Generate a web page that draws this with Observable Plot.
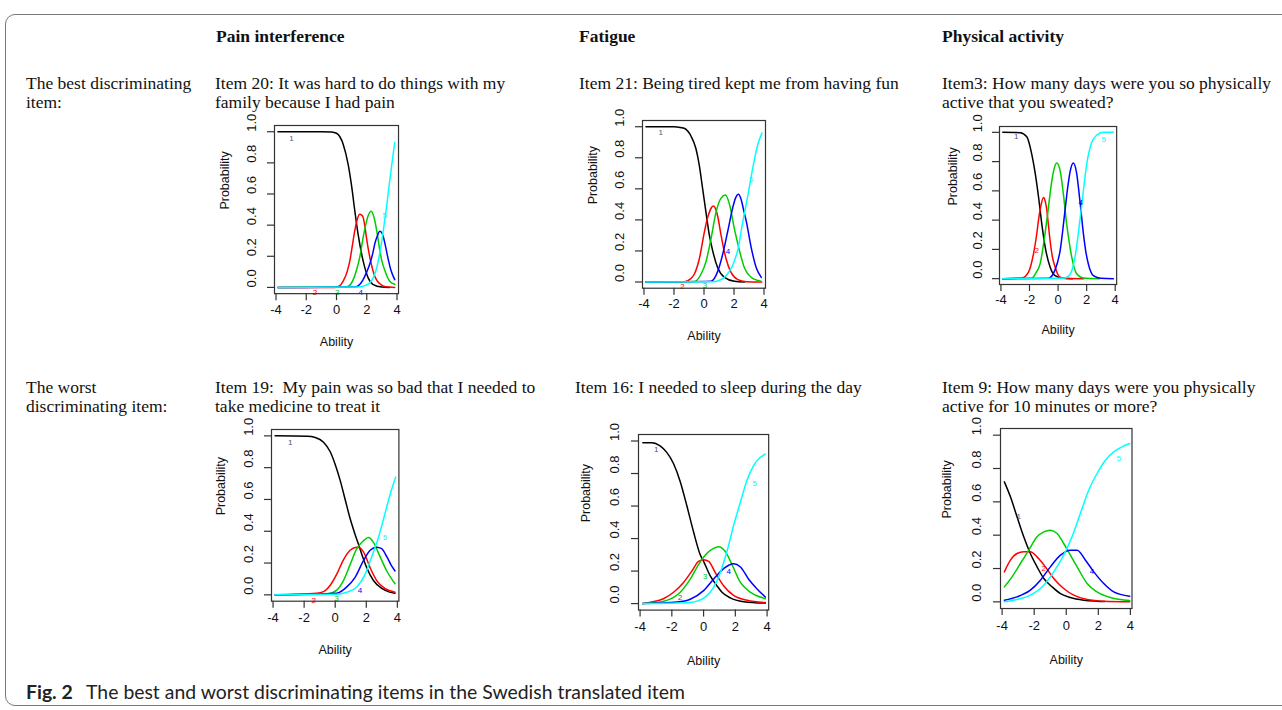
<!DOCTYPE html>
<html>
<head>
<meta charset="utf-8">
<script src="https://cdn.jsdelivr.net/npm/d3@7"></script>
<script src="https://cdn.jsdelivr.net/npm/@observablehq/plot@0.6"></script>
<style>
  html, body { margin: 0; padding: 0; background: #fff; }
  #page { position: relative; width: 1282px; height: 710px; overflow: hidden; background: #fff; }
  .border { position: absolute; left: 5px; top: 14px; width: 1300px; height: 692px; border: 1px solid #7a7a7a; border-radius: 10px; box-sizing: border-box; }
  .t { position: absolute; font-family: "Liberation Serif", "Times New Roman", serif; font-size: 17.5px; line-height: 19px; color: #111; white-space: nowrap; }
  .h { font-weight: bold; }
  .cap { position: absolute; left: 26px; top: 680px; font-family: Lato, "Open Sans", sans-serif; font-size: 19.4px; line-height: 24px; color: #222; white-space: nowrap; }
  .cap b { font-weight: bold; margin-right: 9px; }
  svg.panel { position: absolute; overflow: visible; }
</style>
</head>
<body>
<div id="page">
  <div class="border"></div>
  <div class="t h" style="left:216px; top:27px;">Pain interference</div>
  <div class="t h" style="left:579px; top:27px;">Fatigue</div>
  <div class="t h" style="left:942px; top:27px;">Physical activity</div>

  <div class="t" style="left:26px; top:74px;">The best discriminating<br>item:</div>
  <div class="t" style="left:215px; top:74px;">Item 20: It was hard to do things with my<br>family because I had pain</div>
  <div class="t" style="left:579px; top:74px;">Item 21: Being tired kept me from having fun</div>
  <div class="t" style="left:942px; top:74px;">Item3: How many days were you so physically<br>active that you sweated?</div>

  <div class="t" style="left:26px; top:378px;">The worst<br>discriminating item:</div>
  <div class="t" style="left:215px; top:378px;">Item 19:&nbsp; My pain was so bad that I needed to<br>take medicine to treat it</div>
  <div class="t" style="left:575px; top:378px;">Item 16: I needed to sleep during the day</div>
  <div class="t" style="left:942px; top:378px;">Item 9: How many days were you physically<br>active for 10 minutes or more?</div>

  <div class="cap"><b>Fig. 2</b> The best and worst discriminating items in the Swedish translated item</div>
</div>
<script>
// ---- Axis ticks and labels ----
const xTicks = [-4, -2, 0, 2, 4];
const yTicks = [0, 0.2, 0.4, 0.6, 0.8, 1.0];
const xLabel = "Ability";
const yLabel = "Probability";
const categoryColors = ["#000000", "#ff0000", "#00cd00", "#0000ff", "#00ffff"];
const labelColors = ["#4a5680", "#ff0000", "#00cd00", "#0000ff", "#00ffff"];

// ---- Panel 1: Pain interference, Item 20 (best) ----
const p1_cat1 = [[-3.87,1],[-1,1],[-0.33,0.998],[0,0.99],[0.44,0.92],[0.77,0.79],[1.0,0.65],[1.2,0.5],[1.43,0.34],[1.76,0.17],[2.1,0.06],[2.4,0.02],[3.0,0.002],[3.5,0]];
const p1_cat2 = [[-3.87,0],[-0.1,0],[0.2,0.01],[0.44,0.04],[0.7,0.1],[0.88,0.17],[1.05,0.27],[1.2,0.36],[1.38,0.44],[1.54,0.47],[1.66,0.465],[1.76,0.45],[1.88,0.39],[1.98,0.32],[2.15,0.22],[2.3,0.15],[2.5,0.08],[2.64,0.05],[2.85,0.025],[3.08,0.01],[3.5,0.002],[3.85,0]];
const p1_cat3 = [[-3.87,0],[0.66,0.003],[1.0,0.03],[1.32,0.11],[1.55,0.2],[1.76,0.32],[1.95,0.41],[2.09,0.46],[2.3,0.49],[2.42,0.47],[2.53,0.43],[2.7,0.34],[2.86,0.24],[3.0,0.17],[3.19,0.11],[3.52,0.04],[3.85,0.02]];
const p1_cat4 = [[-3.87,0],[1.3,0.005],[1.55,0.02],[1.76,0.05],[2.0,0.1],[2.2,0.15],[2.4,0.22],[2.53,0.28],[2.7,0.33],[2.86,0.36],[3.0,0.35],[3.08,0.33],[3.25,0.26],[3.4,0.19],[3.6,0.11],[3.85,0.05]];
const p1_cat5 = [[-3.87,0],[1.5,0.003],[1.9,0.012],[2.2,0.03],[2.42,0.06],[2.64,0.12],[2.86,0.22],[3.03,0.32],[3.17,0.42],[3.3,0.51],[3.46,0.64],[3.63,0.77],[3.75,0.86],[3.85,0.93]];
const p1_labels = [["1",-2.97,0.96,0],["2",-1.43,-0.03,1],["3",0.04,-0.03,2],["4",1.6,-0.03,3],["5",3.19,0.46,4]];

// ---- Panel 2: Fatigue, Item 21 (best) ----
const p2_cat1 = [[-3.87,1],[-2,1],[-1.77,0.998],[-1.32,0.99],[-0.87,0.94],[-0.54,0.86],[-0.31,0.75],[-0.09,0.6],[0.13,0.45],[0.36,0.3],[0.58,0.2],[0.92,0.09],[1.36,0.03],[2.03,0.005],[2.7,0]];
const p2_cat2 = [[-3.87,0],[-1.32,0.002],[-0.9,0.02],[-0.65,0.05],[-0.31,0.15],[0.02,0.32],[0.2,0.4],[0.36,0.45],[0.5,0.48],[0.63,0.49],[0.78,0.47],[0.92,0.42],[1.14,0.3],[1.3,0.22],[1.47,0.15],[1.81,0.06],[2.26,0.015],[2.8,0.002],[3.85,0]];
const p2_cat3 = [[-3.87,0],[-0.65,0.003],[-0.2,0.05],[0.13,0.13],[0.47,0.28],[0.8,0.45],[1.14,0.54],[1.43,0.56],[1.7,0.5],[2.03,0.34],[2.37,0.2],[2.7,0.09],[3.15,0.03],[3.8,0.005]];
const p2_cat4 = [[-3.87,0],[0.47,0.005],[0.92,0.07],[1.25,0.18],[1.59,0.33],[1.92,0.48],[2.1,0.54],[2.3,0.565],[2.48,0.53],[2.65,0.46],[2.82,0.39],[3.15,0.22],[3.49,0.09],[3.82,0.03]];
const p2_cat5 = [[-3.87,0],[0.6,0.002],[1.0,0.01],[1.36,0.03],[1.7,0.07],[1.92,0.11],[2.26,0.21],[2.59,0.39],[2.93,0.56],[3.26,0.74],[3.6,0.89],[3.87,0.96]];
const p2_labels = [["1",-2.88,0.96,0],["2",-1.43,-0.03,1],["3",0.07,-0.02,2],["4",1.59,0.2,3],["5",3.15,0.66,4]];

// ---- Panel 3: Physical activity, Item 3 (best) ----
const p3_cat1 = [[-3.87,1],[-2.65,0.998],[-2.19,0.97],[-1.84,0.85],[-1.6,0.72],[-1.37,0.56],[-1.14,0.375],[-0.91,0.22],[-0.56,0.08],[-0.21,0.02],[0.37,0.002],[1.0,0]];
const p3_cat2 = [[-3.87,0],[-2.53,0.005],[-2.07,0.045],[-1.72,0.17],[-1.5,0.3],[-1.37,0.4],[-1.2,0.5],[-1.02,0.555],[-0.9,0.53],[-0.79,0.47],[-0.68,0.37],[-0.56,0.26],[-0.4,0.15],[-0.21,0.08],[0.14,0.01],[0.6,0.001],[1.8,0]];
const p3_cat3 = [[-3.87,0],[-1.84,0.003],[-1.55,0.04],[-1.26,0.1],[-0.91,0.31],[-0.72,0.45],[-0.56,0.58],[-0.42,0.68],[-0.28,0.75],[-0.09,0.79],[0.14,0.74],[0.37,0.58],[0.6,0.375],[0.78,0.25],[0.95,0.15],[1.3,0.034],[1.77,0.005],[2.9,0]];
const p3_cat4 = [[-3.87,0],[-0.67,0.003],[-0.21,0.06],[0.14,0.19],[0.49,0.47],[0.67,0.62],[0.84,0.73],[1.07,0.79],[1.3,0.72],[1.53,0.53],[1.77,0.31],[1.95,0.18],[2.12,0.1],[2.47,0.02],[3.0,0.002],[3.87,0]];
const p3_cat5 = [[-3.87,0],[0.37,0.002],[0.84,0.03],[1.19,0.15],[1.53,0.4],[1.77,0.6],[2.0,0.78],[2.35,0.93],[2.7,0.98],[3.16,1.0],[3.87,1.0]];
const p3_labels = [["1",-2.93,0.97,0],["2",-1.49,0.19,1],["4",1.58,0.52,3],["5",3.2,0.95,4]];

// ---- Panel 4: Pain interference, Item 19 (worst) ----
const p4_cat1 = [[-3.87,1],[-1.8,0.998],[-1.28,0.99],[-0.75,0.96],[-0.32,0.9],[0,0.82],[0.32,0.72],[0.64,0.6],[0.96,0.48],[1.28,0.38],[1.56,0.3],[1.8,0.23],[2.03,0.17],[2.46,0.09],[3.0,0.04],[3.5,0.017],[3.85,0.01]];
const p4_cat2 = [[-3.87,0],[-1.18,0.01],[-0.75,0.02],[-0.32,0.06],[0.1,0.13],[0.53,0.22],[0.96,0.28],[1.39,0.3],[1.6,0.295],[1.82,0.27],[2.25,0.17],[2.67,0.09],[3.2,0.04],[3.85,0.017]];
const p4_cat3 = [[-3.87,0],[-0.53,0.005],[0.1,0.03],[0.53,0.09],[0.96,0.19],[1.39,0.29],[1.82,0.34],[2.14,0.36],[2.46,0.33],[2.89,0.24],[3.32,0.15],[3.85,0.07]];
const p4_cat4 = [[-3.87,0],[0.1,0.01],[0.75,0.05],[1.28,0.11],[1.82,0.215],[2.25,0.28],[2.67,0.3],[2.99,0.29],[3.32,0.24],[3.64,0.18],[3.85,0.15]];
const p4_cat5 = [[-3.87,0],[0.1,0.003],[0.75,0.017],[1.39,0.05],[1.93,0.13],[2.35,0.24],[2.78,0.36],[3.2,0.51],[3.53,0.63],[3.89,0.74]];
const p4_labels = [["1",-2.9,0.96,0],["2",-1.39,-0.035,1],["3",0.1,-0.025,2],["4",1.6,0.03,3],["5",3.2,0.36,4]];

// ---- Panel 5: Fatigue, Item 16 (worst) ----
const p5_cat1 = [[-3.83,0.99],[-3.26,0.99],[-2.74,0.97],[-2.32,0.93],[-1.89,0.86],[-1.47,0.75],[-1.05,0.6],[-0.63,0.44],[-0.21,0.3],[0,0.26],[0.42,0.17],[0.84,0.11],[1.16,0.07],[1.68,0.035],[2.53,0.012],[3.89,0.003]];
const p5_cat2 = [[-3.83,0],[-3.26,0.01],[-2.53,0.03],[-1.89,0.07],[-1.26,0.13],[-0.74,0.2],[-0.32,0.26],[0,0.27],[0.32,0.26],[0.74,0.19],[1.26,0.11],[1.89,0.05],[2.74,0.02],[3.89,0.006]];
const p5_cat3 = [[-3.83,0],[-3.26,0.005],[-2.32,0.02],[-1.47,0.07],[-0.84,0.15],[-0.32,0.24],[0.21,0.31],[0.63,0.34],[0.95,0.35],[1.37,0.32],[1.79,0.24],[2.32,0.13],[2.95,0.07],[3.89,0.03]];
const p5_cat4 = [[-3.83,0],[-1.68,0.01],[-0.84,0.027],[0,0.08],[0.63,0.15],[1.26,0.215],[1.89,0.245],[2.32,0.225],[2.84,0.15],[3.37,0.09],[3.89,0.04]];
const p5_cat5 = [[-3.83,0],[-1.0,0.005],[-0.42,0.015],[0.1,0.04],[0.63,0.1],[1.05,0.19],[1.47,0.32],[1.89,0.48],[2.32,0.625],[2.74,0.76],[3.16,0.85],[3.58,0.9],[3.89,0.92]];
const p5_labels = [["1",-2.99,0.95,0],["2",-1.47,0.04,1],["3",0.1,0.17,2],["4",1.58,0.195,3],["5",3.22,0.74,4]];

// ---- Panel 6: Physical activity, Item 9 (worst) ----
const p6_cat1 = [[-3.86,0.72],[-3.48,0.63],[-3.07,0.51],[-2.65,0.39],[-2.24,0.29],[-1.82,0.21],[-1.4,0.14],[-0.88,0.09],[-0.36,0.05],[0.26,0.026],[1.09,0.01],[1.92,0.004],[2.4,0.002]];
const p6_cat2 = [[-3.86,0.18],[-3.48,0.25],[-3.07,0.29],[-2.65,0.3],[-2.24,0.3],[-1.82,0.27],[-1.3,0.21],[-0.78,0.14],[-0.16,0.08],[0.47,0.04],[1.3,0.014],[2.34,0.004],[3.96,0.001]];
const p6_cat3 = [[-3.86,0.09],[-3.38,0.15],[-2.86,0.23],[-2.34,0.31],[-1.82,0.39],[-1.4,0.42],[-0.99,0.43],[-0.57,0.41],[-0.16,0.35],[0.26,0.28],[0.68,0.21],[1.3,0.11],[1.92,0.06],[2.75,0.026],[3.96,0.008]];
const p6_cat4 = [[-3.86,0.01],[-3.07,0.03],[-2.24,0.07],[-1.61,0.13],[-0.99,0.21],[-0.36,0.28],[0.26,0.31],[0.68,0.31],[1.2,0.25],[1.72,0.18],[2.34,0.11],[2.96,0.06],[3.96,0.034]];
const p6_cat5 = [[-3.86,0.0],[-3.07,0.014],[-2.24,0.04],[-1.4,0.1],[-0.78,0.18],[-0.16,0.28],[0.36,0.39],[0.88,0.53],[1.4,0.67],[1.92,0.77],[2.44,0.85],[2.96,0.9],[3.48,0.93],[3.96,0.95]];
const p6_labels = [["1",-2.96,0.51,0],["2",-1.4,0.2,1],["4",1.61,0.18,3],["5",3.27,0.86,4]];

// Panel placement on the page: pixel positions of x=-4, x=4, y=1, y=0
const panels = [
  {curves: [p1_cat1,p1_cat2,p1_cat3,p1_cat4,p1_cat5], labels: p1_labels, a: 276,    b: 397,  c: 131,   d: 286.7},
  {curves: [p2_cat1,p2_cat2,p2_cat3,p2_cat4,p2_cat5], labels: p2_labels, a: 643,    b: 763,  c: 126.7, d: 282},
  {curves: [p3_cat1,p3_cat2,p3_cat3,p3_cat4,p3_cat5], labels: p3_labels, a: 1000.7, b: 1115, c: 131.7, d: 278},
  {curves: [p4_cat1,p4_cat2,p4_cat3,p4_cat4,p4_cat5], labels: p4_labels, a: 272.7,  b: 397,  c: 435,   d: 594},
  {curves: [p5_cat1,p5_cat2,p5_cat3,p5_cat4,p5_cat5], labels: p5_labels, a: 640,    b: 767,  c: 440.7, d: 603.3},
  {curves: [p6_cat1,p6_cat2,p6_cat3,p6_cat4,p6_cat5], labels: p6_labels, a: 1001.7, b: 1130, c: 435,   d: 601.7}
];

const page = document.getElementById("page");
const mL = 75, mR = 8, mT = 8, mB = 75;

for (const p of panels) {
  const kx = (p.b - p.a) / 8, ky = p.d - p.c;
  const boxL = p.a - 0.1 * kx, boxR = p.b + 0.1 * kx;
  const boxT = p.c - 0.04 * ky, boxB = p.d + 0.04 * ky;
  const W = (boxR - boxL) + mL + mR, H = (boxB - boxT) + mT + mB;
  const lineMarks = p.curves.map((pts, i) => Plot.line(pts, {
    x: d => d[0], y: d => d[1], stroke: categoryColors[i], strokeWidth: 1.5, curve: "monotone-x"
  }));
  const svg = Plot.plot({
    width: W, height: H,
    marginLeft: mL, marginRight: mR, marginTop: mT, marginBottom: mB,
    x: {domain: [-4.1, 4.1], axis: null},
    y: {domain: [-0.04, 1.04], axis: null},
    color: {type: "identity"},
    style: {fontFamily: "'Liberation Sans', Arial, sans-serif", fontSize: "13px", color: "#111", background: "transparent", overflow: "visible"},
    marks: [
      ...lineMarks,
      Plot.text(p.labels, {x: d => d[1], y: d => d[2], text: d => d[0], fill: d => labelColors[d[3]], fontSize: 8}),
      Plot.frame({stroke: "#333", strokeWidth: 1.2}),
      Plot.axisX(xTicks, {anchor: "bottom", tickSize: 7, tickFormat: () => "", stroke: "#333", strokeWidth: 1.2}),
      Plot.axisY(yTicks, {anchor: "left", tickSize: 7, tickFormat: () => "", stroke: "#333", strokeWidth: 1.2}),
      Plot.text(xTicks, {x: d => d, frameAnchor: "bottom", dy: 0.13 * ky, text: d => String(d), fontSize: 13, fill: "#111"}),
      Plot.text(yTicks, {y: d => d, frameAnchor: "left", dx: -0.145 * ky, rotate: -90, text: d => d.toFixed(1), fontSize: 13, fill: "#111"}),
      Plot.text([xLabel], {frameAnchor: "bottom", dy: 0.335 * ky, text: d => d, fontSize: 12.5, fill: "#111"}),
      Plot.text([yLabel], {frameAnchor: "left", dx: -0.32 * ky, rotate: -90, text: d => d, fontSize: 12.5, fill: "#111"})
    ]
  });
  svg.classList.add("panel");
  svg.style.left = (boxL - mL) + "px";
  svg.style.top = (boxT - mT) + "px";
  page.appendChild(svg);
}
</script>
</body>
</html>
